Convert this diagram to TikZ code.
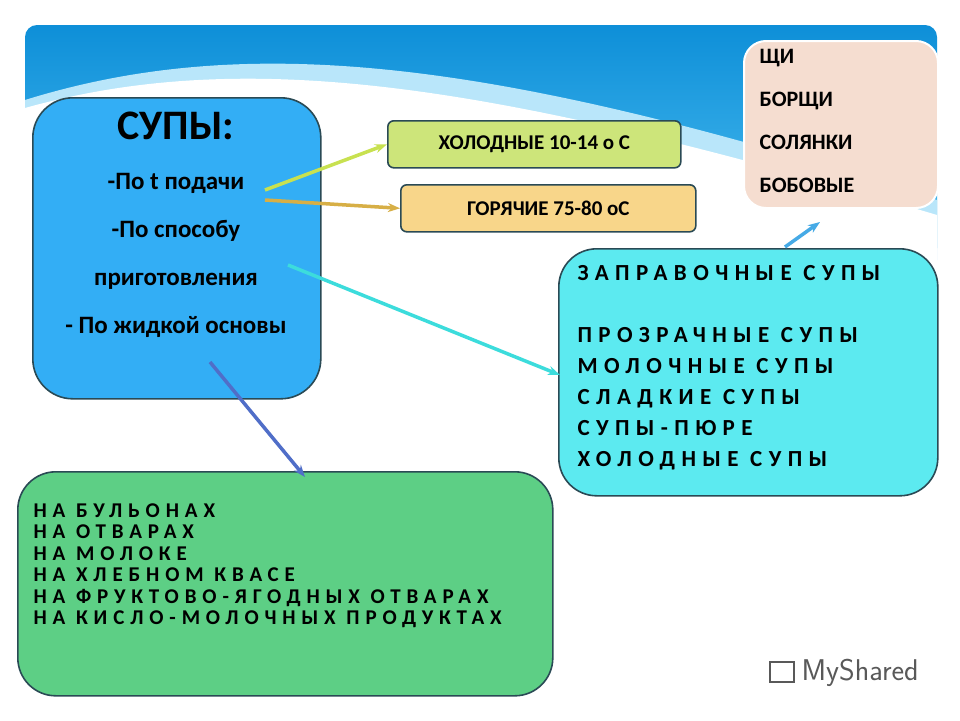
\documentclass[tikz,border=0pt]{standalone}
\usepackage{fontspec}
\setmainfont{Carlito}
\newfontfamily\spaced[LetterSpace=28]{Carlito}
\usetikzlibrary{arrows.meta}
\definecolor{bannerA}{HTML}{0E8FD8}
\definecolor{bannerB}{HTML}{4FC0F2}
\definecolor{mainblue}{HTML}{33AEF5}
\definecolor{coldg}{HTML}{CDE57A}
\definecolor{hoto}{HTML}{F8D68A}
\definecolor{pink}{HTML}{F5DDD0}
\definecolor{cyanb}{HTML}{5CEAF0}
\definecolor{greenb}{HTML}{5DCF85}
\definecolor{edge}{HTML}{2A4A55}
\definecolor{aone}{HTML}{C8E150}
\definecolor{atwo}{HTML}{D7AF46}
\definecolor{athree}{HTML}{3CDCDC}
\definecolor{afour}{HTML}{506EC8}
\definecolor{afive}{HTML}{46AAE6}
\tikzset{
 box/.style={draw=edge,line width=1.6pt,rounded corners=#1},
 box/.default=6pt,
 arr/.style={-{Stealth[length=12pt,width=9pt]},line width=3.5pt,draw=#1},
}
\begin{document}
\begin{tikzpicture}[x=1pt,y=-1pt]
\useasboundingbox (0,0) rectangle (960,720);
\fill[white] (0,0) rectangle (960,720);
% banner
\shade[top color=bannerA,bottom color=bannerB,rounded corners=12pt] (25,25) rectangle (937,260);
\fill[white!60!bannerB] (25,100) .. controls (250,30) and (500,60) .. (937,200) -- (937,260) -- (25,260) -- cycle;
\fill[white] (25,108) .. controls (250,45) and (500,85) .. (937,215) -- (937,270) -- (25,270) -- cycle;
% boxes
\node[box=40pt,fill=mainblue,minimum width=288pt,minimum height=301pt,anchor=north west] (main) at (32,97) {};
\node[anchor=north,font=\bfseries\fontsize{42}{46}\selectfont] (title) at (176,108) {СУПЫ:};
\node[anchor=north,align=center,font=\bfseries\fontsize{25}{48}\selectfont] (items) at (176,170)
 {-По t подачи\\-По способу\\приготовления\\- По жидкой основы};
\node[box,fill=coldg,minimum width=293pt,minimum height=47pt,anchor=north west,font=\bfseries\fontsize{21}{24}\selectfont] (cold) at (387,120) {ХОЛОДНЫЕ 10-14 о С};
\node[box,fill=hoto,minimum width=295pt,minimum height=47pt,anchor=north west,font=\bfseries\fontsize{21}{24}\selectfont] (hot) at (400,184) {ГОРЯЧИЕ 75-80 оС};
\node[draw=white,line width=2pt,rounded corners=22pt,fill=pink,minimum width=194pt,minimum height=167pt,anchor=north west] (pinkbox) at (743,40) {};
\node[anchor=north west,align=left,font=\bfseries\fontsize{22}{43}\selectfont] (pinktext) at (756,46) {ЩИ\\БОРЩИ\\СОЛЯНКИ\\БОБОВЫЕ};
\node[box=38pt,fill=cyanb,minimum width=379pt,minimum height=247pt,anchor=north west] (cyanbox) at (558,248) {};
\node[anchor=north west,align=left,font=\spaced\bfseries\fontsize{23}{31}\selectfont] (cyantext) at (574,262)
 {ЗАПРАВОЧНЫЕ СУПЫ\\[31pt]ПРОЗРАЧНЫЕ СУПЫ\\МОЛОЧНЫЕ СУПЫ\\СЛАДКИЕ СУПЫ\\СУПЫ-ПЮРЕ\\ХОЛОДНЫЕ СУПЫ};
\node[box=38pt,fill=greenb,minimum width=535pt,minimum height=224pt,anchor=north west] (greenbox) at (17,471) {};
\node[anchor=north west,align=left,font=\spaced\bfseries\fontsize{21}{21.5}\selectfont] (greentext) at (30,500)
 {НА БУЛЬОНАХ\\НА ОТВАРАХ\\НА МОЛОКЕ\\НА ХЛЕБНОМ КВАСЕ\\НА ФРУКТОВО-ЯГОДНЫХ ОТВАРАХ\\НА КИСЛО-МОЛОЧНЫХ ПРОДУКТАХ};
% arrows
\coordinate (s1) at (265,190);
\coordinate (s2) at (265,200);
\coordinate (s3) at (288,265);
\coordinate (s4) at (210,362);
\coordinate (s5) at (785,247);
\coordinate (e3) at (560,375);
\coordinate (e4) at (305,477);
\coordinate (e5) at (820,222);
\draw[arr=aone] (s1) -- (cold.west);
\draw[arr=atwo] (s2) -- (hot.west);
\draw[arr=athree] (s3) -- (e3);
\draw[arr=afour] (s4) -- (e4);
\draw[arr=afive] (s5) -- (e5);
% watermark
\node[anchor=west,text=gray!70!black,font=\sffamily\fontsize{30}{32}\selectfont] (wm) at (798,673) {MyShared};
\node[draw=gray!70!black,line width=1.5pt,minimum width=24pt,minimum height=20pt] (wmicon) at (782,672) {};
\end{tikzpicture}
\end{document}
